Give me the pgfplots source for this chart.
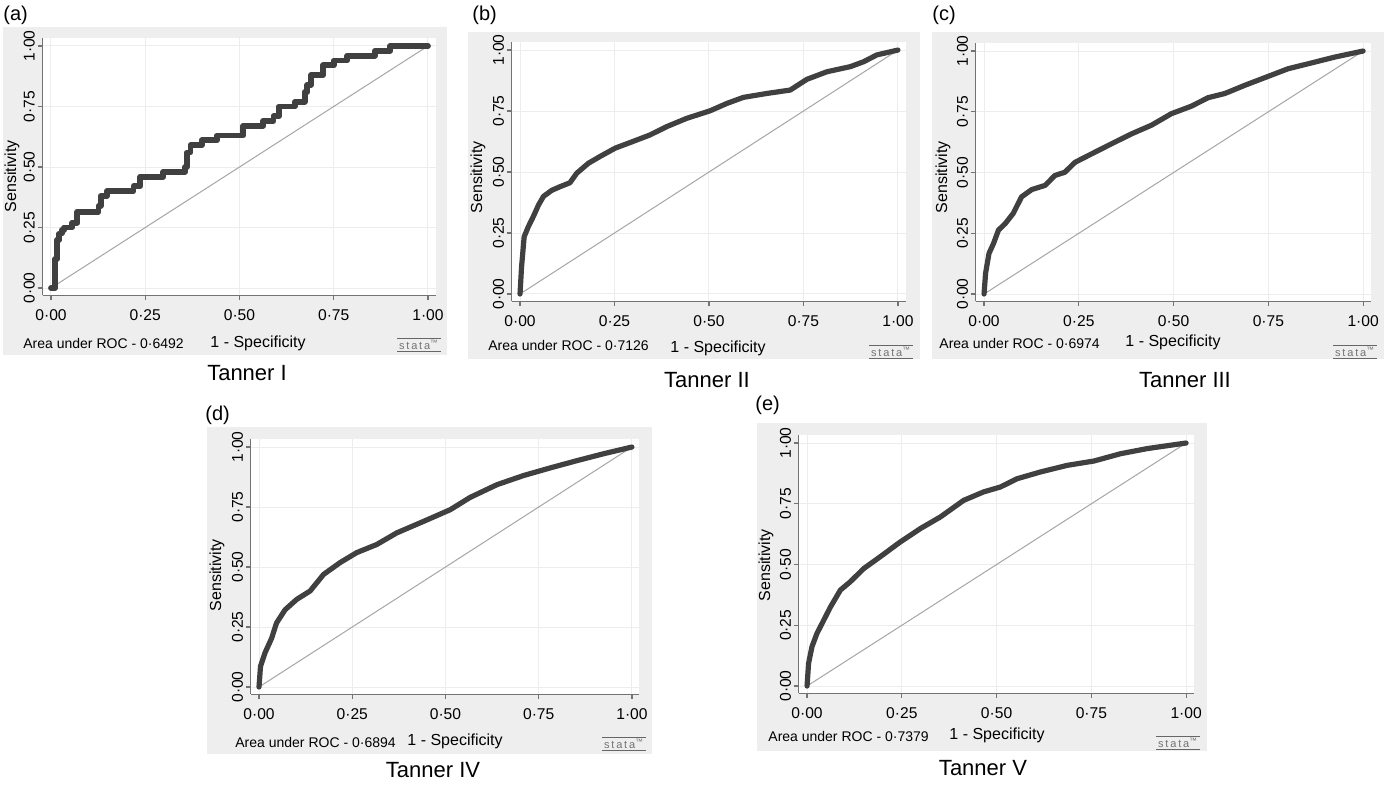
\documentclass[border=0pt]{standalone}
\usepackage{fontspec}
\setmainfont{Liberation Sans}
\usepackage{pgfplots}
\pgfplotsset{compat=1.18}

\definecolor{graphbg}{HTML}{EEEEEE}
\definecolor{curve}{HTML}{404040}

\pgfplotsset{
  rocax/.style={
    scale only axis, anchor=south west,
    xmin=-0.022, xmax=1.02, ymin=-0.03, ymax=1.035,
    axis lines*=left,
    axis line style={black!55, line width=0.6pt},
    axis background/.style={fill=white},
    tick align=outside, major tick length=2.5pt,
    tick style={black!55, line width=0.6pt},
    xtick={0,0.25,0.5,0.75,1}, ytick={0,0.25,0.5,0.75,1},
    xticklabels={0·00,0·25,0·50,0·75,1·00},
    yticklabels={0·00,0·25,0·50,0·75,1·00},
    ticklabel style={font=\fontsize{7.8}{9}\selectfont},
    xticklabel style={yshift=-1pt},
    yticklabel style={rotate=90, anchor=south, inner sep=1.2pt},
    grid=major, grid style={black!7, line width=0.5pt},
    clip=false,
  },
  roc/.style={curve, line width=2.6pt, line join=round, line cap=round},
  diag/.style={black!35, line width=0.5pt},
}

\begin{document}
\begin{tikzpicture}
\path[use as bounding box] (0,0) rectangle (692pt,-392pt);

% grey graph regions (pixel coordinates)
\begin{scope}[x=0.5pt, y=-0.5pt]
  \fill[graphbg] (3,27) rectangle (447,355);
  \fill[graphbg] (468,32) rectangle (920,359);
  \fill[graphbg] (932,32) rectangle (1384,359);
  \fill[graphbg] (207,427) rectangle (652,754);
  \fill[graphbg] (757,423) rectangle (1207,751);
\end{scope}

% (a) Tanner I
\begin{axis}[rocax, at={(21.35pt,-147.65pt)}, width=196.4pt, height=128.9pt]
\addplot[diag] coordinates {(0,0) (1,1)};
\addplot[roc, line width=2.9pt] coordinates {
  (0,0) (0.011,0) (0.011,0.12) (0.016,0.12) (0.016,0.20) (0.022,0.20)
  (0.022,0.225) (0.029,0.225) (0.029,0.24) (0.035,0.24) (0.035,0.25)
  (0.056,0.25) (0.056,0.27) (0.07,0.27) (0.07,0.315) (0.126,0.315)
  (0.126,0.34) (0.132,0.34) (0.132,0.38) (0.148,0.38) (0.148,0.40)
  (0.219,0.40) (0.219,0.42) (0.237,0.42) (0.237,0.46) (0.298,0.46)
  (0.298,0.48) (0.356,0.48) (0.356,0.50) (0.36,0.50) (0.36,0.56)
  (0.37,0.56) (0.37,0.59) (0.40,0.59) (0.40,0.61) (0.44,0.61)
  (0.44,0.63) (0.51,0.63) (0.51,0.67) (0.563,0.67) (0.563,0.69)
  (0.59,0.69) (0.59,0.71) (0.605,0.71) (0.605,0.75) (0.647,0.75)
  (0.647,0.77) (0.673,0.77) (0.673,0.81) (0.68,0.81) (0.68,0.84)
  (0.69,0.84) (0.69,0.88) (0.722,0.88) (0.722,0.92) (0.75,0.92)
  (0.75,0.94) (0.786,0.94) (0.786,0.96) (0.859,0.96) (0.859,0.98)
  (0.9,0.98) (0.9,1.0) (1.0,1.0)
};
\end{axis}

% (b) Tanner II
\begin{axis}[rocax, at={(255.85pt,-150.65pt)}, width=196.9pt, height=129.9pt]
\addplot[diag] coordinates {(0,0) (1,1)};
\addplot[roc] coordinates {
  (0,0) (0.004,0.11) (0.011,0.235) (0.022,0.276) (0.035,0.317)
  (0.049,0.365) (0.062,0.40) (0.084,0.425) (0.106,0.44) (0.132,0.456)
  (0.15,0.495) (0.181,0.536) (0.212,0.564) (0.252,0.598) (0.30,0.626)
  (0.344,0.652) (0.388,0.686) (0.441,0.72) (0.503,0.751) (0.547,0.781)
  (0.591,0.806) (0.653,0.822) (0.715,0.836) (0.759,0.88) (0.812,0.911)
  (0.874,0.932) (0.909,0.952) (0.944,0.98) (1,1)
};
\end{axis}

% (c) Tanner III
\begin{axis}[rocax, at={(487.85pt,-150.65pt)}, width=197.5pt, height=129.4pt]
\addplot[diag] coordinates {(0,0) (1,1)};
\addplot[roc] coordinates {
  (0,0) (0.004,0.085) (0.013,0.167) (0.025,0.208) (0.038,0.263)
  (0.056,0.29) (0.077,0.332) (0.099,0.40) (0.126,0.43) (0.161,0.447)
  (0.187,0.488) (0.213,0.501) (0.24,0.542) (0.284,0.577) (0.336,0.618)
  (0.389,0.659) (0.442,0.695) (0.494,0.742) (0.547,0.773) (0.591,0.808)
  (0.635,0.825) (0.688,0.859) (0.75,0.896) (0.802,0.927) (0.864,0.951)
  (0.925,0.975) (1,1)
};
\end{axis}

% (d) Tanner IV
\begin{axis}[rocax, at={(125.4pt,-347.1pt)}, width=194.3pt, height=127.8pt]
\addplot[diag] coordinates {(0,0) (1,1)};
\addplot[roc] coordinates {
  (0,0) (0.004,0.086) (0.016,0.142) (0.034,0.204) (0.047,0.267)
  (0.07,0.322) (0.101,0.365) (0.137,0.40) (0.173,0.469) (0.217,0.518)
  (0.262,0.56) (0.316,0.594) (0.369,0.642) (0.441,0.69) (0.513,0.739)
  (0.566,0.79) (0.638,0.843) (0.709,0.881) (0.781,0.913) (0.852,0.943)
  (0.924,0.972) (1,1)
};
\end{axis}

% (e) Tanner V
\begin{axis}[rocax, at={(399.35pt,-346.65pt)}, width=197.5pt, height=129.4pt]
\addplot[diag] coordinates {(0,0) (1,1)};
\addplot[roc] coordinates {
  (0,0) (0.004,0.093) (0.013,0.162) (0.026,0.216) (0.044,0.271)
  (0.062,0.326) (0.088,0.395) (0.114,0.429) (0.15,0.484) (0.193,0.532)
  (0.246,0.593) (0.299,0.648) (0.352,0.696) (0.413,0.764) (0.466,0.799)
  (0.51,0.819) (0.554,0.853) (0.616,0.881) (0.686,0.908) (0.757,0.926)
  (0.827,0.956) (0.897,0.977) (1,1)
};
\end{axis}

% texts (pixel coordinates)
\begin{scope}[x=0.5pt, y=-0.5pt]
  \begin{scope}[every node/.style={font=\fontsize{10}{12}\selectfont, anchor=west, inner sep=0pt}]
    \node at (3,15) {(a)};
    \node at (472,15) {(b)};
    \node at (932,15) {(c)};
    \node at (205,415) {(d)};
    \node at (755,405) {(e)};
  \end{scope}
  \begin{scope}[every node/.style={font=\fontsize{8}{10}\selectfont, rotate=90, inner sep=0pt}]
    \node at (12,176) {Sensitivity};
    \node at (478,177) {Sensitivity};
    \node at (943,177) {Sensitivity};
    \node at (217,575) {Sensitivity};
    \node at (766,565) {Sensitivity};
  \end{scope}
  \begin{scope}[every node/.style={font=\fontsize{7}{9}\selectfont, anchor=west, inner sep=0pt}]
    \node at (23,343) {Area under ROC - 0·6492};
    \node at (488,345) {Area under ROC - 0·7126};
    \node at (939,343) {Area under ROC - 0·6974};
    \node at (235,742) {Area under ROC - 0·6894};
    \node at (768,736) {Area under ROC - 0·7379};
  \end{scope}
  \begin{scope}[every node/.style={font=\fontsize{8}{10}\selectfont, inner sep=0pt}]
    \node at (258,343) {1 - Specificity};
    \node at (718,348) {1 - Specificity};
    \node at (1173,342) {1 - Specificity};
    \node at (455,741) {1 - Specificity};
    \node at (997,735) {1 - Specificity};
  \end{scope}
  \begin{scope}[every node/.style={font=\fontsize{11}{13}\selectfont, inner sep=0pt}]
    \node at (247,373) {Tanner I};
    \node at (707,380) {Tanner II};
    \node at (1185,380) {Tanner III};
    \node at (433,770) {Tanner IV};
    \node at (983,768) {Tanner V};
  \end{scope}
  \begin{scope}[every node/.style={font=\fontsize{5.5}{6}\selectfont, text=black!55, inner sep=0.6pt}]
    \foreach \cx/\cy in {419/345, 891/352, 1355/352, 624/744, 1178/743} {
      \node (s) at (\cx,\cy) {s\,t\,a\,t\,a\textsuperscript{™}};
      \draw[black!60, line width=0.5pt] (s.north west) -- (s.north east);
      \draw[black!60, line width=0.5pt] (s.south west) -- (s.south east);
    }
  \end{scope}
\end{scope}
\end{tikzpicture}
\end{document}
